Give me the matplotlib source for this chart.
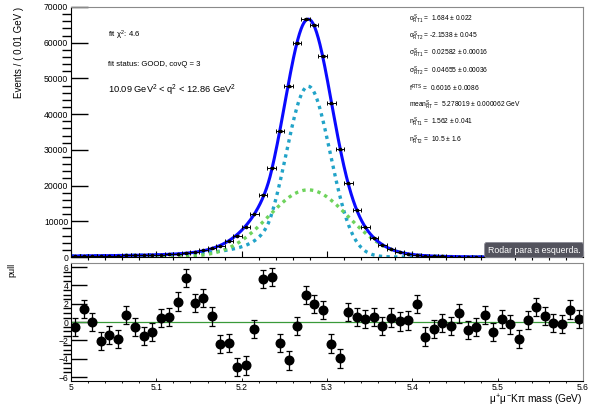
"""Mass fit with pull panel (ROOT style) redrawn in matplotlib."""

import matplotlib

matplotlib.use("Agg")

import matplotlib.pyplot as plt
from matplotlib.ticker import MultipleLocator
import numpy as np

plt.rcParams["font.family"] = ["Liberation Sans", "DejaVu Sans"]
plt.rcParams["mathtext.fontset"] = "custom"
plt.rcParams["mathtext.rm"] = "Liberation Sans"
plt.rcParams["mathtext.it"] = "Liberation Sans"
plt.rcParams["mathtext.bf"] = "Liberation Sans"

# bin centres (0.01 GeV bins) and events
mass_bins = np.round(np.arange(5.005, 5.6, 0.01), 3)
events = [
    300, 320, 340, 330, 360, 390, 450, 470, 500, 560,
    660, 760, 930, 1250, 1420, 1880, 2400, 3150, 4420, 5990,
    8400, 12070, 17450, 25050, 35300, 47750, 59900, 66700, 64900, 56200,
    43000, 30150, 20650, 13170, 8410, 5440, 3440, 2230, 1375, 890,
    630, 355, 250, 178, 120, 96, 55, 41, 37, 19,
    20, 12, 5, 8, 9, 6, 3, 2, 4, 2,
]
pulls = [
    -0.54, 1.40, 0.00, -2.10, -1.40, -1.85, 0.80, -0.50, -1.50, -1.05,
    0.43, 0.58, 2.24, 4.84, 2.06, 2.60, 0.61, -2.42, -2.27, -4.90,
    -4.73, -0.72, 4.73, 4.90, -2.31, -4.19, -0.43, 2.96, 1.99, 1.34,
    -2.35, -3.97, 1.12, 0.58, 0.32, 0.58, -0.43, 0.50, 0.07, 0.18,
    1.99, -1.59, -0.72, -0.11, -0.43, 0.94, -0.87, -0.54, 0.76, -1.08,
    0.36, -0.25, -1.88, 0.22, 1.66, 0.69, -0.11, -0.18, 1.37, 0.32,
]

# fit parameters printed on the chart, peak heights
mean = 5.278019
alpha1, sigma1, n1 = 1.684, 0.02582, 1.562
alpha2, sigma2, n2 = -2.1538, 0.04655, 10.5
peak1, peak2 = 47800, 18800

param_lines = [
    r"$\alpha^{S}_{RT1}$ =  1.684 ± 0.022",
    r"$\alpha^{S}_{RT2}$ = -2.1538 ± 0.045",
    r"$\sigma^{S}_{RT1}$ =  0.02582 ± 0.00016",
    r"$\sigma^{S}_{RT2}$ =  0.04655 ± 0.00036",
    r"$f^{RTS}$ =  0.6016 ± 0.0086",
    r"$mean^{S}_{RT}$ =  5.278019 ± 0.000062 GeV",
    r"$n^{S}_{RT1}$ =  1.562 ± 0.041",
    r"$n^{S}_{RT2}$ =  10.5 ± 1.6",
]


def crystal_ball(x, m, sigma, alpha, n):
    """RooCBShape, unnormalised (1 at the peak)."""
    t = (x - m) / sigma
    if alpha < 0:
        t = -t
    a = abs(alpha)
    out = np.exp(-0.5 * t ** 2)
    tail = t < -a
    A = (n / a) ** n * np.exp(-0.5 * a ** 2)
    B = n / a - a
    out[tail] = A * (B - t[tail]) ** (-n)
    return out


def style_axis(ax):
    for side in ("top", "right"):
        ax.spines[side].set_color("#8a8a8a")
    for side in ("left", "bottom"):
        ax.spines[side].set_color("black")
    ax.tick_params(direction="in", labelsize=6.2, pad=2)


def main() -> None:
    fig = plt.figure(figsize=(5.91, 4.09), dpi=100)
    ax = fig.add_axes([0.1201, 0.3716, 0.8664, 0.6113])
    axp = fig.add_axes([0.1201, 0.068, 0.8664, 0.289])

    x = np.linspace(5.0, 5.6, 1200)
    comp1 = peak1 * crystal_ball(x, mean, sigma1, alpha1, n1)
    comp2 = peak2 * crystal_ball(x, mean, sigma2, alpha2, n2)

    ax.plot(x, comp1, color="#21a3c8", lw=2.4, ls=(0, (1, 1.3)))
    ax.plot(x, comp2, color="#6ed35c", lw=2.4, ls=(0, (1, 1.3)))
    ax.plot(x, comp1 + comp2, color="#0a0aff", lw=2.2)

    ax.errorbar(mass_bins, events, xerr=0.005, yerr=np.sqrt(events), fmt="o",
                color="black", ms=1.6, elinewidth=0.7, capsize=1.6, capthick=0.7)

    ax.set_xlim(5.0, 5.6)
    ax.set_ylim(0, 70000)
    ax.yaxis.set_major_locator(MultipleLocator(10000))
    ax.yaxis.set_minor_locator(MultipleLocator(2000))
    ax.xaxis.set_major_locator(MultipleLocator(0.1))
    ax.xaxis.set_minor_locator(MultipleLocator(0.02))
    style_axis(ax)
    ax.tick_params(axis="y", which="major", length=12, width=1)
    ax.tick_params(axis="y", which="minor", length=6.5, width=1)
    ax.tick_params(axis="x", which="major", length=4.5, width=0.8)
    ax.tick_params(axis="x", which="minor", length=2.4, width=0.8)
    ax.tick_params(axis="x", labelbottom=False)
    ax.set_ylabel("Events / ( 0.01 GeV )", fontsize=7, loc="top", labelpad=14)

    ax.text(5.043, 62000, r"fit $\chi^{2}$: 4.6", fontsize=5.6, va="center")
    ax.text(5.043, 54000, "fit status: GOOD, covQ = 3", fontsize=5.6, va="center")
    ax.text(5.043, 46800, r"10.09 GeV$^{2}$ < q$^{2}$ < 12.86 GeV$^{2}$",
            fontsize=6.7, va="center")

    for i, line in enumerate(param_lines):
        fig.text(409 / 591, 1 - (19 + 17.3 * i) / 409, line, fontsize=4.8, va="center")

    fig.text(534 / 591, 1 - 250 / 409, "Rodar para a esquerda.", fontsize=6.3,
             color="white", ha="center", va="center",
             bbox=dict(boxstyle="round,pad=0.35,rounding_size=0.25",
                       fc="#53535d", ec="#8c8c96", lw=0.6))

    axp.axhline(0, color="#3a9a3a", lw=0.9)
    axp.errorbar(mass_bins, pulls, yerr=1, fmt="o", color="black", ms=6.2,
                 elinewidth=0.9, capsize=2.2, capthick=0.9)
    axp.set_xlim(5.0, 5.6)
    axp.set_ylim(-6.45, 6.45)
    axp.yaxis.set_major_locator(MultipleLocator(2))
    axp.yaxis.set_minor_locator(MultipleLocator(0.5))
    axp.xaxis.set_major_locator(MultipleLocator(0.1))
    axp.xaxis.set_minor_locator(MultipleLocator(0.02))
    style_axis(axp)
    axp.tick_params(axis="y", which="major", length=11.5, width=1)
    axp.tick_params(axis="y", which="minor", length=6, width=1)
    axp.tick_params(axis="x", which="major", length=2.5, width=0.6, pad=1.5)
    axp.tick_params(axis="x", which="minor", length=1.3, width=0.6)
    axp.set_xticks(np.round(np.arange(5.0, 5.61, 0.1), 1))
    axp.set_xticklabels(["5", "5.1", "5.2", "5.3", "5.4", "5.5", "5.6"])
    axp.set_ylabel("pull", fontsize=6.5, loc="top", labelpad=30)
    axp.set_xlabel(r"$\mu^{+}\mu^{-}$K$\pi$ mass (GeV)", fontsize=7.3,
                   loc="right", labelpad=0)

    fig.savefig("out.png", dpi=100)
    plt.close(fig)


if __name__ == "__main__":
    main()
